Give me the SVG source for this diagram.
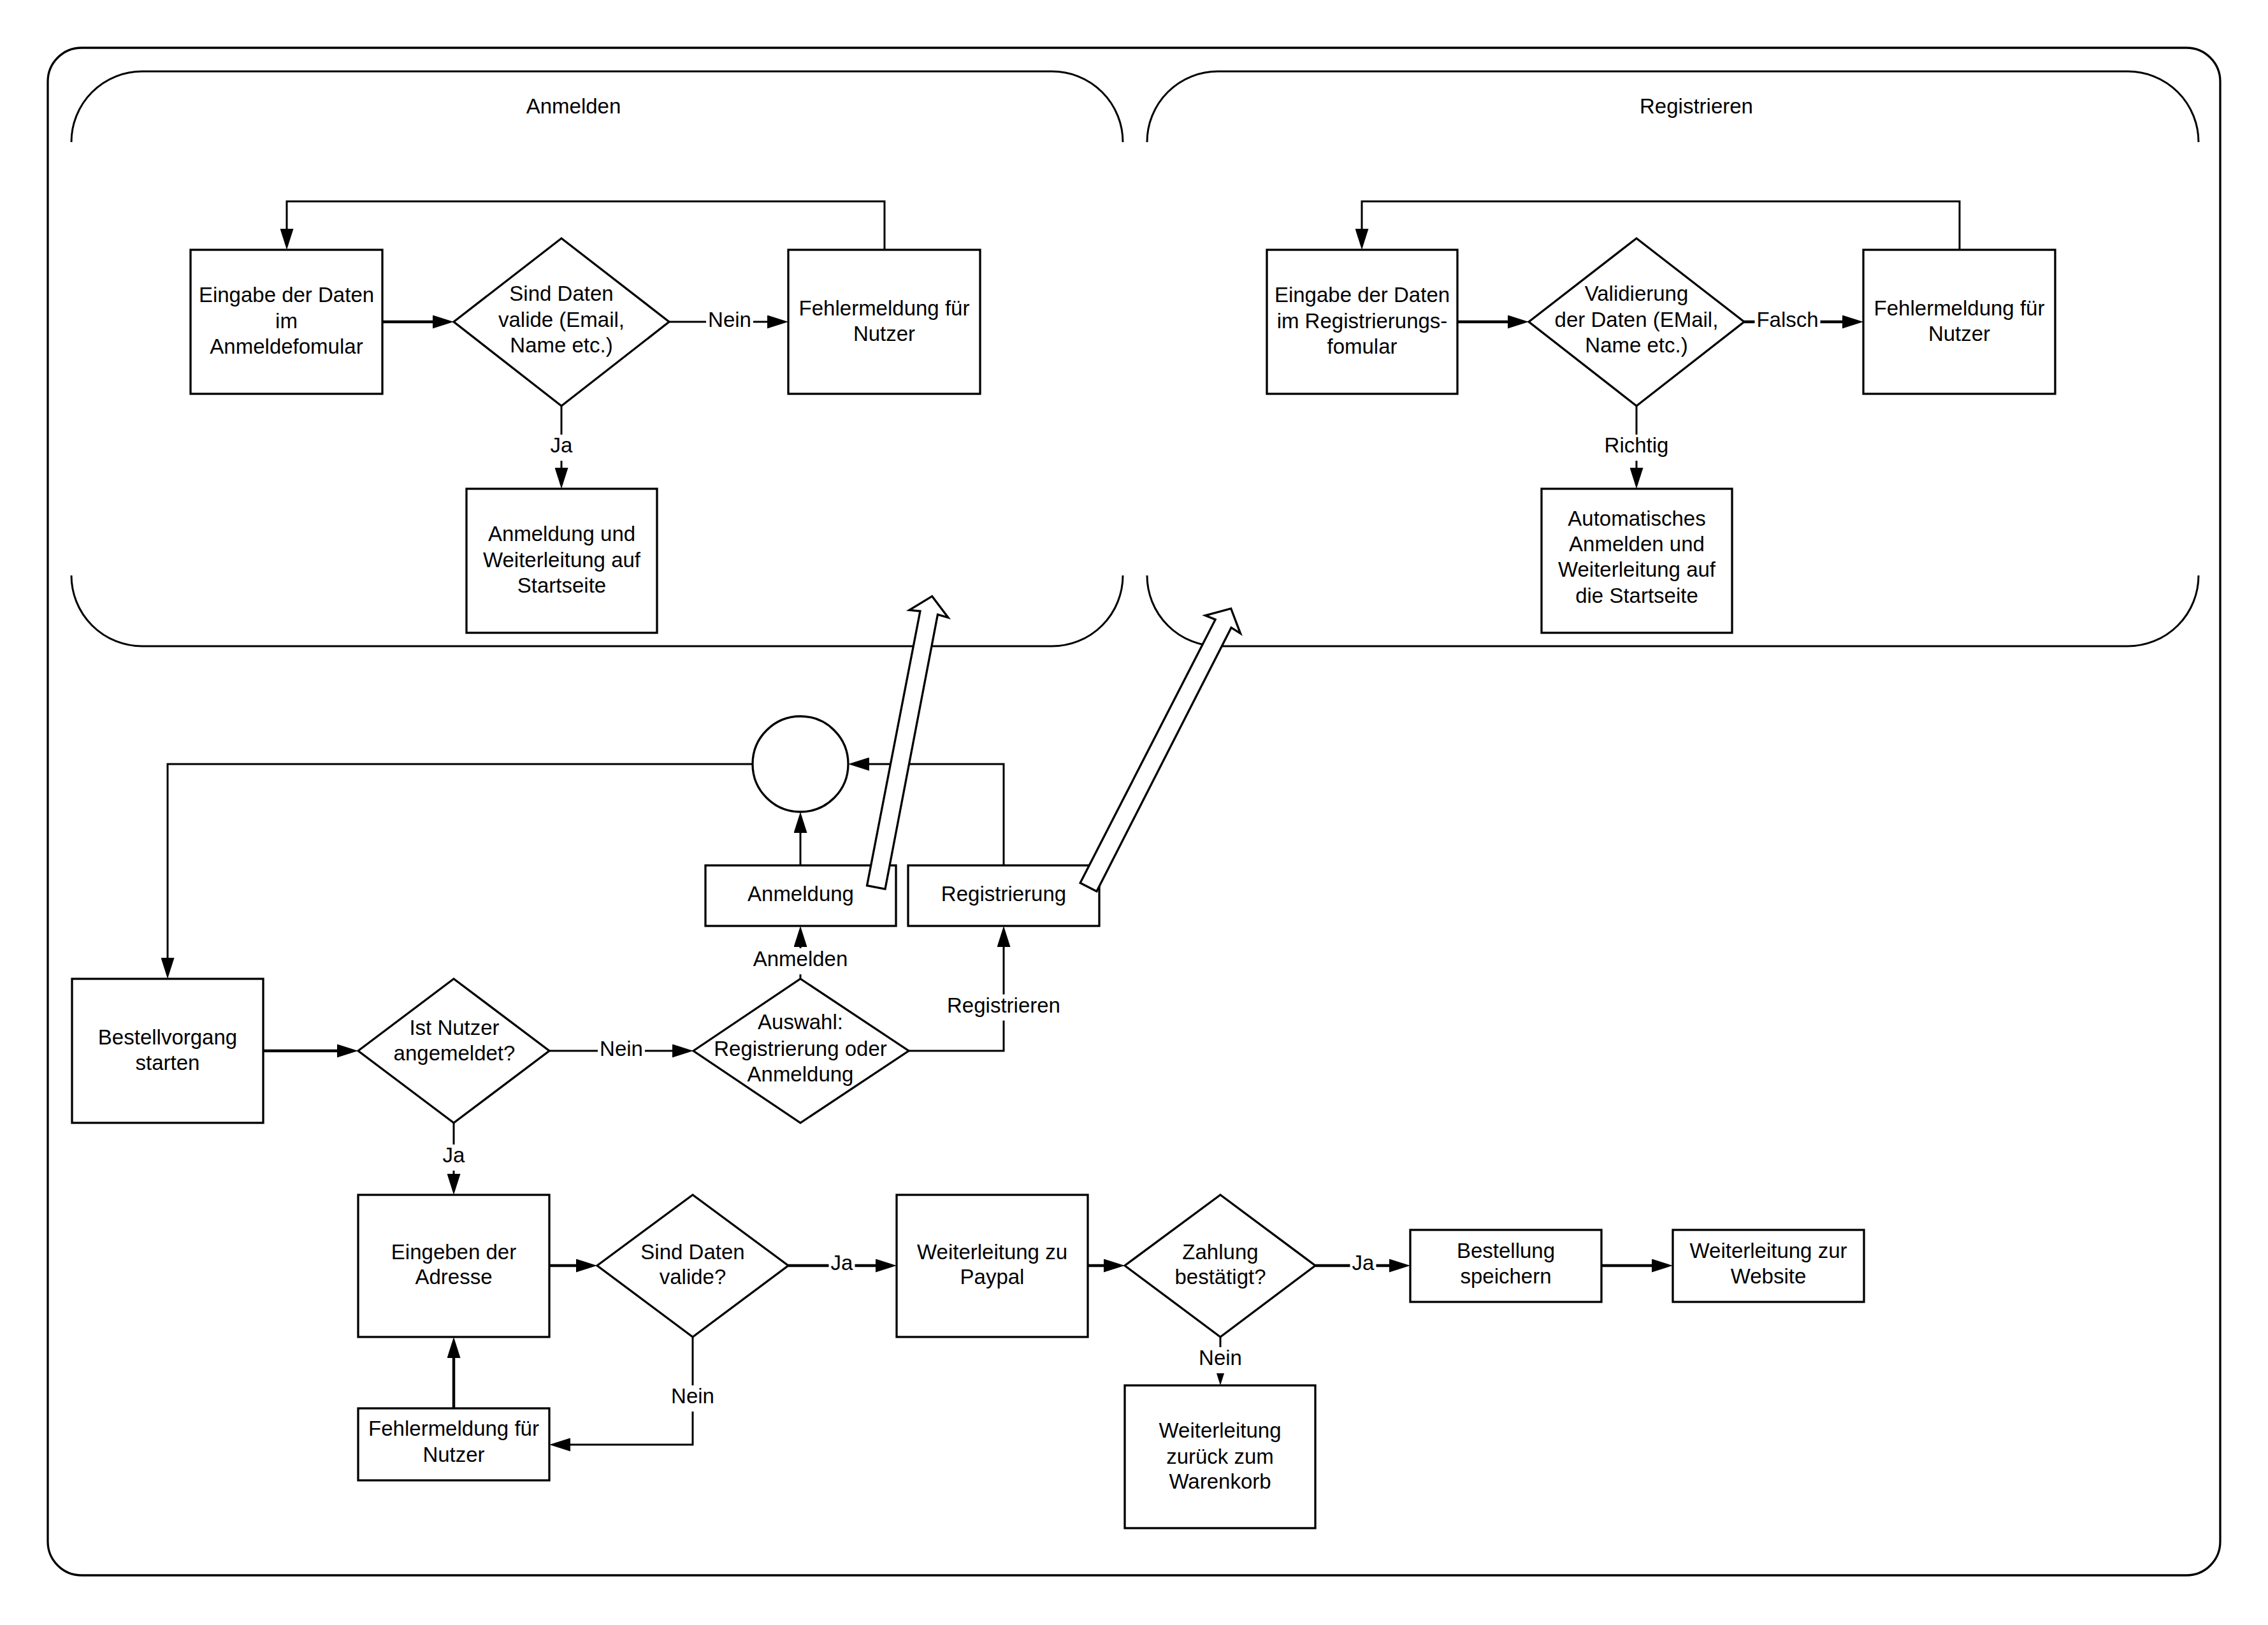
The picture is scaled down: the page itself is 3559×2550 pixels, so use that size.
<svg xmlns="http://www.w3.org/2000/svg" width="3559" height="2550" viewBox="0 0 3559 2550">
<defs>
<marker id="ah" markerUnits="userSpaceOnUse" viewBox="0 0 33 21" markerWidth="33" markerHeight="21" refX="0" refY="10.5" orient="auto"><path d="M0,0 L33,10.5 L0,21 z" fill="#000"/></marker>
<style>
.t{font-family:"Liberation Sans",Arial,sans-serif;font-size:33px;fill:#000;text-anchor:middle}
.n{fill:#fff;stroke:#000;stroke-width:3.3}
.lane{fill:none;stroke:#000;stroke-width:3}
.c{fill:none;stroke:#000;stroke-width:3;marker-end:url(#ah)}
.ct{stroke-width:4.5}
.lb{fill:#fff}
.ba{fill:#fff;stroke:#000;stroke-width:3.3}
</style>
</defs>
<rect width="3559" height="2550" fill="#fff"/>
<g id="container">
<rect x="75" y="75" width="3409" height="2397" rx="53" fill="none" stroke="#000" stroke-width="3.3"/>
</g>
<g id="lane-anmelden">
<path class="lane" d="M112,223 A111,111 0 0 1 223,112 H1651 A111,111 0 0 1 1762,223"/>
<path class="lane" d="M112,903 A111,111 0 0 0 223,1014 H1651 A111,111 0 0 0 1762,903"/>
<text class="t" x="900" y="177.5">Anmelden</text>
</g>
<g id="lane-registrieren">
<path class="lane" d="M1800,223 A111,111 0 0 1 1911,112 H3339 A111,111 0 0 1 3450,223"/>
<path class="lane" d="M1800,903 A111,111 0 0 0 1911,1014 H3339 A111,111 0 0 0 3450,903"/>
<text class="t" x="2662" y="177.5">Registrieren</text>
</g>

<g id="n-eingabe-anm">
<rect class="n" x="299" y="392" width="301" height="226"/>
<text class="t"><tspan x="449.5" y="474">Eingabe der Daten</tspan><tspan x="449.5" y="514.5">im</tspan><tspan x="449.5" y="555">Anmeldefomular</tspan></text>
</g>
<g id="n-valide-anm">
<polygon class="n" points="712,505 881,374 1050,505 881,637"/>
<text class="t"><tspan x="881" y="472">Sind Daten</tspan><tspan x="881" y="512.5">valide (Email,</tspan><tspan x="881" y="553">Name etc.)</tspan></text>
</g>
<g id="n-fehler-anm">
<rect class="n" x="1237" y="392" width="301" height="226"/>
<text class="t"><tspan x="1387.5" y="494.5">Fehlermeldung für</tspan><tspan x="1387.5" y="534.5">Nutzer</tspan></text>
</g>
<g id="n-anmeldung-ok">
<rect class="n" x="732" y="767" width="299" height="226"/>
<text class="t"><tspan x="881.5" y="849">Anmeldung und</tspan><tspan x="881.5" y="890">Weiterleitung auf</tspan><tspan x="881.5" y="930">Startseite</tspan></text>
</g>

<g id="n-eingabe-reg">
<rect class="n" x="1988" y="392" width="299" height="226"/>
<text class="t"><tspan x="2137.5" y="474">Eingabe der Daten</tspan><tspan x="2137.5" y="514.5">im Registrierungs-</tspan><tspan x="2137.5" y="555">fomular</tspan></text>
</g>
<g id="n-valide-reg">
<polygon class="n" points="2399,505 2568,374 2737,505 2568,637"/>
<text class="t"><tspan x="2568" y="472">Validierung</tspan><tspan x="2568" y="512.5">der Daten (EMail,</tspan><tspan x="2568" y="553">Name etc.)</tspan></text>
</g>
<g id="n-fehler-reg">
<rect class="n" x="2924" y="392" width="301" height="226"/>
<text class="t"><tspan x="3074.5" y="494.5">Fehlermeldung für</tspan><tspan x="3074.5" y="534.5">Nutzer</tspan></text>
</g>
<g id="n-auto-anmelden">
<rect class="n" x="2419" y="767" width="299" height="226"/>
<text class="t"><tspan x="2568.5" y="825">Automatisches</tspan><tspan x="2568.5" y="864.5">Anmelden und</tspan><tspan x="2568.5" y="904.5">Weiterleitung auf</tspan><tspan x="2568.5" y="945.5">die Startseite</tspan></text>
</g>

<g id="n-merge">
<circle class="n" cx="1256" cy="1199" r="75"/>
</g>
<g id="n-anmeldung">
<rect class="n" x="1107" y="1358" width="299" height="95"/>
<text class="t" x="1256.5" y="1414">Anmeldung</text>
</g>
<g id="n-registrierung">
<rect class="n" x="1425" y="1358" width="300" height="95"/>
<text class="t" x="1575" y="1414">Registrierung</text>
</g>
<g id="n-bestellvorgang">
<rect class="n" x="113" y="1536" width="300" height="226"/>
<text class="t"><tspan x="263" y="1638.5">Bestellvorgang</tspan><tspan x="263" y="1678.5">starten</tspan></text>
</g>
<g id="n-ist-angemeldet">
<polygon class="n" points="562,1649 712,1536 862,1649 712,1762"/>
<text class="t"><tspan x="713" y="1624">Ist Nutzer</tspan><tspan x="713" y="1664">angemeldet?</tspan></text>
</g>
<g id="n-auswahl">
<polygon class="n" points="1088,1649 1256,1536 1426,1649 1256,1762"/>
<text class="t"><tspan x="1256" y="1615">Auswahl:</tspan><tspan x="1256" y="1656.5">Registrierung oder</tspan><tspan x="1256" y="1697">Anmeldung</tspan></text>
</g>
<g id="n-adresse">
<rect class="n" x="562" y="1875" width="300" height="223"/>
<text class="t"><tspan x="712" y="1975.5">Eingeben der</tspan><tspan x="712" y="2015">Adresse</tspan></text>
</g>
<g id="n-valide-adresse">
<polygon class="n" points="937,1986 1087,1875 1237,1986 1087,2098"/>
<text class="t"><tspan x="1087" y="1975.5">Sind Daten</tspan><tspan x="1087" y="2015">valide?</tspan></text>
</g>
<g id="n-paypal">
<rect class="n" x="1407" y="1875" width="300" height="223"/>
<text class="t"><tspan x="1557" y="1975.5">Weiterleitung zu</tspan><tspan x="1557" y="2015">Paypal</tspan></text>
</g>
<g id="n-zahlung">
<polygon class="n" points="1765,1986 1915,1875 2064,1986 1915,2098"/>
<text class="t"><tspan x="1915" y="1975.5">Zahlung</tspan><tspan x="1915" y="2015">bestätigt?</tspan></text>
</g>
<g id="n-bestellung">
<rect class="n" x="2213" y="1930" width="300" height="113"/>
<text class="t"><tspan x="2363" y="1974">Bestellung</tspan><tspan x="2363" y="2013.5">speichern</tspan></text>
</g>
<g id="n-website">
<rect class="n" x="2625" y="1930" width="300" height="113"/>
<text class="t"><tspan x="2775" y="1974">Weiterleitung zur</tspan><tspan x="2775" y="2013.5">Website</tspan></text>
</g>
<g id="n-fehler-adresse">
<rect class="n" x="562" y="2210" width="300" height="113"/>
<text class="t"><tspan x="712" y="2253">Fehlermeldung für</tspan><tspan x="712" y="2293.5">Nutzer</tspan></text>
</g>
<g id="n-warenkorb">
<rect class="n" x="1765" y="2174" width="299" height="224"/>
<text class="t"><tspan x="1914.5" y="2256">Weiterleitung</tspan><tspan x="1914.5" y="2297">zurück zum</tspan><tspan x="1914.5" y="2336">Warenkorb</tspan></text>
</g>

<g id="connectors">
<path class="c ct" d="M600,505 H679"/>
<path class="c" d="M1050,505 H1204"/>
<path class="c" d="M1388,392 V316 H450 V359"/>
<path class="c" d="M881,637 V734"/>
<path class="c ct" d="M2287,505 H2366"/>
<path class="c ct" d="M2737,505 H2891"/>
<path class="c" d="M3075,392 V316 H2137 V359"/>
<path class="c" d="M2568,637 V734"/>
<path class="c" d="M1181,1199 H263 V1503"/>
<path class="c" d="M1256,1358 V1307"/>
<path class="c" d="M1575,1358 V1199 H1364"/>
<path class="c ct" d="M413,1649 H529"/>
<path class="c" d="M862,1649 H1055"/>
<path class="c" d="M1256,1536 V1486"/>
<path class="c" d="M1426,1649 H1575 V1486"/>
<path class="c" d="M712,1762 V1842"/>
<path class="c ct" d="M862,1986 H904"/>
<path class="c ct" d="M1237,1986 H1374"/>
<path class="c ct" d="M1707,1986 H1732"/>
<path class="c ct" d="M2064,1986 H2180"/>
<path class="c ct" d="M2513,1986 H2592"/>
<path class="c" d="M1087,2098 V2267 H895"/>
<path class="c ct" d="M712,2210 V2131"/>
<path class="c" d="M1915,2098 V2141"/>

<rect class="lb" x="1108" y="484.5" width="74" height="41"/><text class="t" x="1145" y="512.5">Nein</text>
<rect class="lb" x="860.5" y="682" width="41" height="41"/><text class="t" x="881" y="710">Ja</text>
<rect class="lb" x="2753.5" y="484.5" width="103" height="41"/><text class="t" x="2805" y="512.5">Falsch</text>
<rect class="lb" x="2514.5" y="682" width="107" height="41"/><text class="t" x="2568" y="710">Richtig</text>
<rect class="lb" x="938" y="1628.5" width="74" height="41"/><text class="t" x="975" y="1656.5">Nein</text>
<rect class="lb" x="1178.5" y="1488" width="155" height="41"/><text class="t" x="1256" y="1516">Anmelden</text>
<rect class="lb" x="1483" y="1560.5" width="184" height="41"/><text class="t" x="1575" y="1588.5">Registrieren</text>
<rect class="lb" x="691.5" y="1796" width="41" height="41"/><text class="t" x="712" y="1824">Ja</text>
<rect class="lb" x="1300.5" y="1965" width="41" height="41"/><text class="t" x="1321" y="1993">Ja</text>
<rect class="lb" x="2118.5" y="1965" width="41" height="41"/><text class="t" x="2139" y="1993">Ja</text>
<rect class="lb" x="1050" y="2174" width="74" height="41"/><text class="t" x="1087" y="2202">Nein</text>
<rect class="lb" x="1878" y="2114" width="74" height="41"/><text class="t" x="1915" y="2142">Nein</text>

<polygon class="ba" transform="translate(1462.7,935.7) rotate(10.9)" points="0,0 31,28 14,26.5 14.5,465 -14.5,465 -14,26.5 -31,28"/>
<polygon class="ba" transform="translate(1931.7,955) rotate(27.1)" points="0,0 31,28 14,26.5 14.5,491 -14.5,491 -14,26.5 -31,28"/>
</g>
</svg>
